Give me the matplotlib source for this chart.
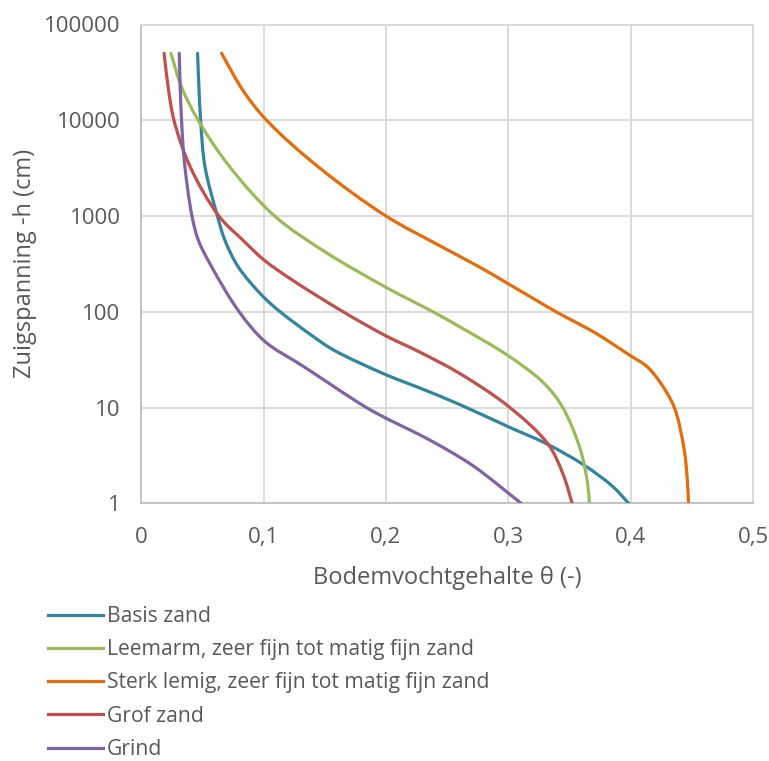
import numpy as np
import matplotlib
matplotlib.use("Agg")
import matplotlib.pyplot as plt
from matplotlib.path import Path
from matplotlib.patches import PathPatch
from matplotlib.lines import Line2D
from matplotlib.ticker import FixedLocator, FixedFormatter

plt.rcParams["font.family"] = ["Open Sans", "DejaVu Sans"]

# ---------------------------------------------------------------- data
labels = ["Basis zand",
          "Leemarm, zeer fijn tot matig fijn zand",
          "Sterk lemig, zeer fijn tot matig fijn zand",
          "Grof zand",
          "Grind"]
colors = ["#31859C", "#9BBB59", "#E46C0A", "#C0504D", "#8064A2"]

h_basis = [50000, 22000, 10000, 3300, 1000, 560, 295, 144, 100, 57, 40, 22, 16, 11, 6.3, 4.2,
           2.5, 1.5, 1]
th_basis = [0.0460, 0.0471, 0.0485, 0.0520, 0.0622, 0.0683, 0.0792, 0.0996, 0.1135, 0.139,
            0.157, 0.200, 0.2276, 0.2585, 0.300, 0.331, 0.362, 0.3853, 0.3984]

h_leemarm = [50000, 22000, 10000, 3300, 1000, 440, 180, 100, 70, 35, 18, 10, 3.6, 1.6, 1]
th_leemarm = [0.0242, 0.0330, 0.0465, 0.0720, 0.1090, 0.148, 0.200, 0.2384, 0.260, 0.2996,
              0.3290, 0.3445, 0.3590, 0.3648, 0.3663]

h_lemig = [50000, 20600, 10000, 3270, 1000, 490, 293, 198, 132, 100, 59.5, 35, 26.7, 18, 10,
           3.6, 1.75, 1]
th_lemig = [0.0656, 0.0830, 0.1024, 0.1445, 0.2000, 0.2439, 0.2765, 0.2994, 0.3228, 0.339,
            0.3717, 0.3995, 0.4135, 0.4245, 0.4357, 0.4438, 0.4463, 0.4473]

h_grof = [50000, 22000, 10000, 3300, 1000, 560, 350, 223, 100, 56, 38, 22.7, 10.4, 4.2, 2.05, 1]
th_grof = [0.0186, 0.0220, 0.0267, 0.0398, 0.0634, 0.0830, 0.1000, 0.1214, 0.165,
           0.200, 0.2275, 0.2602, 0.2996, 0.3322, 0.3445, 0.3522]

h_grind = [50000, 22000, 10000, 3800, 1000, 560, 295, 100, 49, 27, 10, 7.4, 5.2, 3.5, 2.4, 1]
th_grind = [0.0310, 0.0318, 0.0329, 0.0351, 0.0414, 0.0466, 0.0575, 0.0800, 0.101, 0.1323,
            0.1840, 0.2030, 0.2275, 0.252, 0.2725, 0.3105]

series_h = [h_basis, h_leemarm, h_lemig, h_grof, h_grind]
series_th = [th_basis, th_leemarm, th_lemig, th_grof, th_grind]

x_ticks = [0, 0.1, 0.2, 0.3, 0.4, 0.5]
x_ticklabels = ["0", "0,1", "0,2", "0,3", "0,4", "0,5"]
y_ticks = [1, 10, 100, 1000, 10000, 100000]
y_ticklabels = ["1", "10", "100", "1000", "10000", "100000"]

# ---------------------------------------------------------------- style
TXT = "#595959"
GRID = "#D9D9D9"
FS_TICK, FS_LEG, FS_TITLE = 16, 15.2, 17
LW = 2.3


def smooth_line(ax, xs, ys, **kw):
    """Draw the read points as a smoothed line: centripetal Catmull-Rom turned
    into cubic Bezier segments, worked out in pixel space so the log axis and the
    uneven point spacing are respected."""
    to_axes = ax.transData + ax.transAxes.inverted()
    bb = ax.get_window_extent()
    sc = np.array([bb.width, bb.height])
    p = to_axes.transform(np.column_stack([xs, ys])) * sc
    p = np.vstack([2 * p[0] - p[1], p, 2 * p[-1] - p[-2]])   # reflected end points
    verts, codes = [p[1] / sc], [Path.MOVETO]
    for i in range(1, len(p) - 2):
        p0, p1, p2, p3 = p[i - 1], p[i], p[i + 1], p[i + 2]
        d1 = np.hypot(*(p1 - p0)) ** 0.5
        d2 = np.hypot(*(p2 - p1)) ** 0.5
        d3 = np.hypot(*(p3 - p2)) ** 0.5
        b1 = (d1**2 * p2 - d2**2 * p0 + (2 * d1**2 + 3 * d1 * d2 + d2**2) * p1) / (3 * d1 * (d1 + d2))
        b2 = (d3**2 * p1 - d2**2 * p3 + (2 * d3**2 + 3 * d3 * d2 + d2**2) * p2) / (3 * d3 * (d3 + d2))
        verts += [b1 / sc, b2 / sc, p2 / sc]
        codes += [Path.CURVE4] * 3
    patch = PathPatch(Path(verts, codes), transform=ax.transAxes, fill=False, **kw)
    ax.add_patch(patch)
    return patch


# ---------------------------------------------------------------- figure
W, H = 769, 761
fig = plt.figure(figsize=(W / 100, H / 100), dpi=100)
ax = fig.add_axes([141.3 / W, 1 - 503.3 / H, (753 - 141.3) / W, (503.3 - 24.5) / H])

ax.set_yscale("log")
ax.set_xlim(0, 0.5)
ax.set_ylim(1, 100000)

handles = []
for th, h, c, lab in zip(series_th, series_h, colors, labels):
    smooth_line(ax, th, h, edgecolor=c, lw=LW, capstyle="round", zorder=3)
    handles.append(Line2D([], [], color=c, lw=LW))

ax.xaxis.set_major_locator(FixedLocator(x_ticks))
ax.xaxis.set_major_formatter(FixedFormatter(x_ticklabels))
ax.yaxis.set_major_locator(FixedLocator(y_ticks))
ax.yaxis.set_major_formatter(FixedFormatter(y_ticklabels))
ax.yaxis.set_minor_locator(FixedLocator([]))

ax.grid(True, color=GRID, lw=1.3, zorder=0)
ax.set_axisbelow(True)
for side in ("top", "right"):
    ax.spines[side].set_color(GRID)
    ax.spines[side].set_linewidth(1.3)
for side in ("left", "bottom"):
    ax.spines[side].set_color("#BFBFBF")
    ax.spines[side].set_linewidth(1.3)

ax.tick_params(axis="both", length=0, labelsize=FS_TICK, colors=TXT)
ax.tick_params(axis="x", pad=17)
ax.tick_params(axis="y", pad=15)

ax.set_xlabel("Bodemvochtgehalte θ (-)", fontsize=FS_TITLE, color=TXT)
ax.xaxis.set_label_coords(0.5, (503.3 - 578) / 478.8)
ax.xaxis.label.set_va("center")
ax.set_ylabel("Zuigspanning -h (cm)", fontsize=FS_TITLE, color=TXT)
ax.yaxis.set_label_coords((25 - 141.3) / 612, 0.5)
ax.yaxis.label.set_va("center")

fig.legend(handles, labels, loc="upper left", bbox_to_anchor=(48 / W, 1 - 606 / H),
           frameon=False, fontsize=FS_LEG, handlelength=2.6, handletextpad=0.18,
           labelspacing=0.58, borderpad=0, borderaxespad=0, labelcolor=TXT)

fig.savefig("out.png", dpi=100)
